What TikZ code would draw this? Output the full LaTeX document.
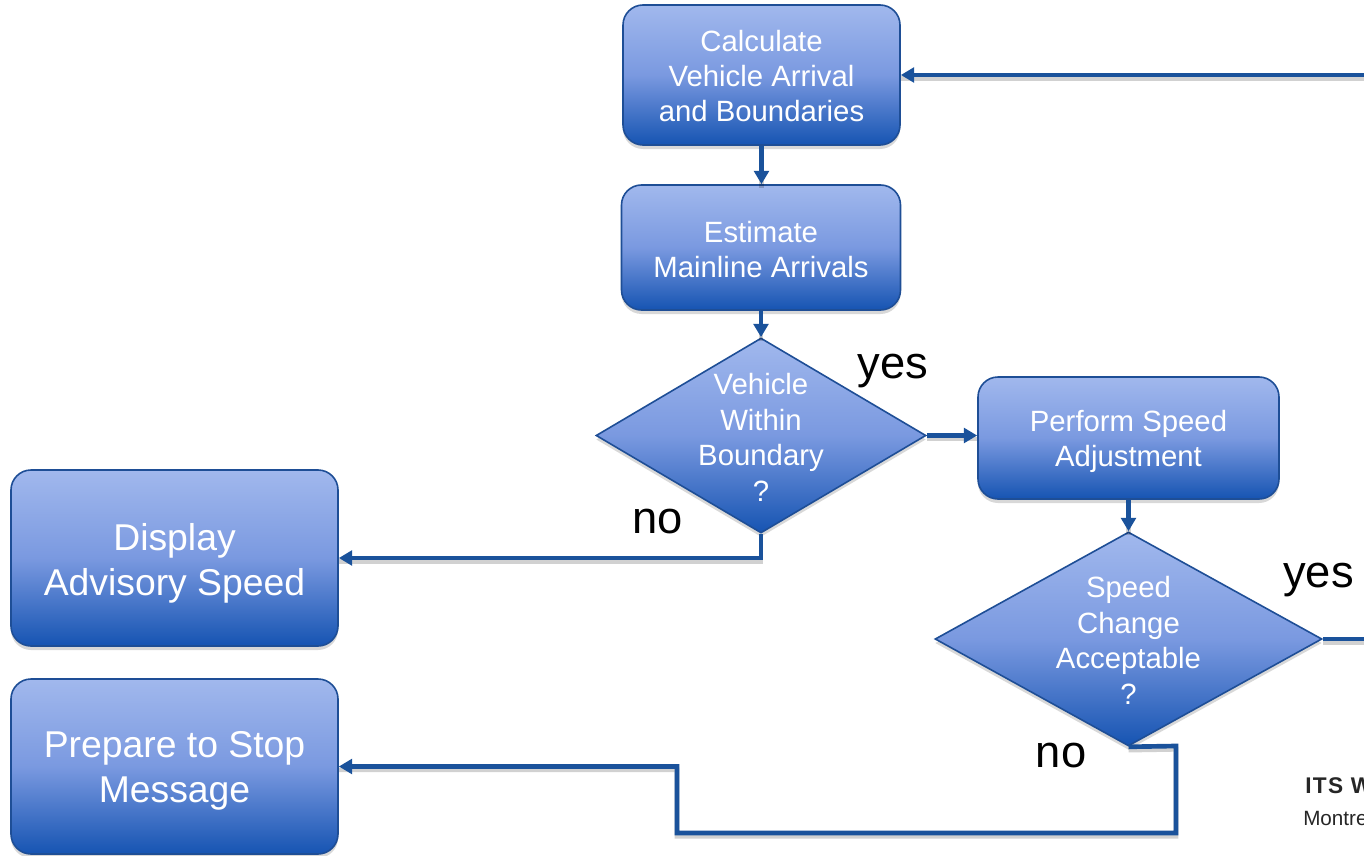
\documentclass[tikz,border=0pt]{standalone}
\usepackage{fontspec}
\setmainfont{Liberation Sans}
\usetikzlibrary{arrows.meta,shapes.geometric,shadows}
\definecolor{lineblue}{RGB}{26,82,155}
\definecolor{edgeblue}{RGB}{30,78,150}
\definecolor{topblue}{RGB}{161,184,237}
\definecolor{midblue}{RGB}{122,153,224}
\definecolor{botblue}{RGB}{22,84,178}
\tikzset{
  shade3/.style={top color=topblue, bottom color=botblue, middle color=midblue},
  procbox/.style={rectangle, rounded corners=15pt, draw=edgeblue, line width=1.2pt, shade3,
    inner sep=0pt, drop shadow={opacity=0.3, shadow xshift=0pt, shadow yshift=-3pt}},
  decision/.style={diamond, draw=edgeblue, line width=1.2pt, shade3, inner sep=0pt,
    drop shadow={opacity=0.3, shadow xshift=0pt, shadow yshift=-3pt}},
  boxtext/.style={text=white, align=center, inner sep=0pt, font=\fontsize{22}{26.6}\selectfont},
  bigtext/.style={text=white, align=center, inner sep=0pt, font=\fontsize{28}{33.75}\selectfont},
  flow/.style={draw=lineblue, line width=3.5pt, -{Triangle[length=10pt,width=11pt]},
    preaction={draw=black, opacity=0.18, -, line width=3.5pt, transform canvas={yshift=-2.5pt}}},
  answer/.style={font=\fontsize{34}{40}\selectfont, text=black, inner sep=0pt, anchor=base},
}
\begin{document}
\begin{tikzpicture}[x=0.75pt, y=-0.75pt]
\clip (0,0) rectangle (1364,856);
\fill[white] (0,0) rectangle (1364,856);

% process boxes
\node[procbox, minimum width=207.75pt, minimum height=105pt] (calc) at (761.5,75) {};
\node[boxtext] (calct) at (761.5,76) {Calculate\\Vehicle Arrival\\and Boundaries};
\node[procbox, minimum width=209.25pt, minimum height=93.75pt] (est) at (761,247.5) {};
\node[boxtext] (estt) at (761,249.5) {Estimate\\Mainline Arrivals};
\node[procbox, minimum width=225.75pt, minimum height=91.5pt] (perf) at (1128.5,438) {};
\node[boxtext] (perft) at (1128.5,441.5) {Perform Speed\\Adjustment};
\node[procbox, minimum width=245.25pt, minimum height=132pt] (disp) at (174.5,558) {};
\node[bigtext] (dispt) at (174.5,563.5) {Display\\Advisory Speed};
\node[procbox, minimum width=245.25pt, minimum height=131.25pt] (prep) at (174.5,766.5) {};
\node[bigtext] (prept) at (174.5,771) {Prepare to Stop\\Message};

% decisions
\node[decision, minimum width=247.5pt, minimum height=146.25pt] (d1) at (761,435.5) {};
\node[boxtext] (d1t) at (761,437.5) {Vehicle\\Within\\Boundary\\?};
\node[decision, minimum width=290.25pt, minimum height=160.5pt] (d2) at (1128.5,639) {};
\node[boxtext] (d2t) at (1128.5,640.5) {Speed\\Change\\Acceptable\\?};

% helper coordinates
\coordinate (c1) at (1176,746);
\coordinate (c2) at (1176,833);
\coordinate (c3) at (677,833);
\coordinate (c4) at (1390,639);

% connectors
\draw[flow] (calc.south) -- (calc.south |- est.north);
\draw[flow] (est.south) -- (est.south |- d1.north);
\draw[flow] (d1.east) -- (perf.west |- d1.east);
\draw[flow] (d1.south) |- (disp.east);
\draw[flow] (perf.south) -- (d2.north);
\draw[flow] (d2.south) -- (c1) -- (c2) -- (c3) |- (prep.east);
\draw[flow] (d2.east) -- (c4) |- (calc.east);

% answer labels
\node[answer] (yes1) at (893,378) {yes};
\node[answer] (no1) at (657.5,533) {no};
\node[answer] (yes2) at (1318.5,587) {yes};
\node[answer] (no2) at (1061,767) {no};

% corner texts
\node[anchor=base west, inner sep=0pt, text=black!85,
  font=\bfseries\addfontfeatures{LetterSpace=6}\fontsize{17}{20}\selectfont] (its) at (1305,793) {ITS W};
\node[anchor=base west, inner sep=0pt, text=black!85, font=\fontsize{15.5}{18}\selectfont] (mtl) at (1303,825) {Montre};
\end{tikzpicture}
\end{document}
